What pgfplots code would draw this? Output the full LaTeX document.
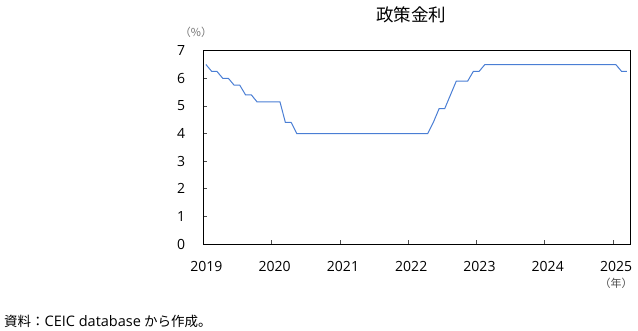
\documentclass[border=0pt]{standalone}
\usepackage{fontspec}
\setmainfont{Noto Sans CJK JP}
\newfontfamily\latin{Open Sans}
\usepackage{pgfplots}
\pgfplotsset{compat=1.18}
\usepgfplotslibrary{dateplot}
\definecolor{lineblue}{RGB}{74,126,212}
\begin{document}
\begin{tikzpicture}[x=1pt,y=1pt]
\path[use as bounding box] (0,0) rectangle (638,331);
\begin{axis}[
  at={(203.3pt,87pt)}, anchor=south west,
  scale only axis, width=426.7pt, height=193.3pt,
  date coordinates in=x,
  xmin=2019-01-01, xmax=2025-04-01,
  ymin=0, ymax=7,
  xtick={2019-01-01,2020-01-01,2021-01-01,2022-01-01,2023-01-01,2024-01-01,2025-01-01},
  xticklabel={\year},
  ytick={0,1,2,3,4,5,6,7},
  tick align=inside, xtick pos=bottom, ytick pos=left,
  major tick length=4pt,
  axis line style={black, line width=0.9pt},
  tick style={black!70, line width=0.7pt},
  /pgf/number format/assume math mode=true,
  ticklabel style={font=\latin\fontsize{14}{16}\selectfont, inner sep=0pt},
  xticklabel style={anchor=north, yshift=-17.5pt, xshift=3pt},
  yticklabel style={anchor=east, xshift=-18pt},
  clip=false,
]
\addplot[lineblue, line width=1pt] table[row sep=\\] {
date value\\
2019-01-15 6.50\\ 2019-02-15 6.25\\ 2019-03-15 6.25\\ 2019-04-15 6.00\\ 2019-05-15 6.00\\ 2019-06-15 5.75\\
2019-07-15 5.75\\ 2019-08-15 5.40\\ 2019-09-15 5.40\\ 2019-10-15 5.15\\ 2019-11-15 5.15\\ 2019-12-15 5.15\\
2020-01-15 5.15\\ 2020-02-15 5.15\\ 2020-03-15 4.40\\ 2020-04-15 4.40\\ 2020-05-15 4.00\\ 2020-06-15 4.00\\
2020-07-15 4.00\\ 2020-08-15 4.00\\ 2020-09-15 4.00\\ 2020-10-15 4.00\\ 2020-11-15 4.00\\ 2020-12-15 4.00\\
2021-01-15 4.00\\ 2021-02-15 4.00\\ 2021-03-15 4.00\\ 2021-04-15 4.00\\ 2021-05-15 4.00\\ 2021-06-15 4.00\\
2021-07-15 4.00\\ 2021-08-15 4.00\\ 2021-09-15 4.00\\ 2021-10-15 4.00\\ 2021-11-15 4.00\\ 2021-12-15 4.00\\
2022-01-15 4.00\\ 2022-02-15 4.00\\ 2022-03-15 4.00\\ 2022-04-15 4.00\\ 2022-05-15 4.40\\ 2022-06-15 4.90\\
2022-07-15 4.90\\ 2022-08-15 5.40\\ 2022-09-15 5.90\\ 2022-10-15 5.90\\ 2022-11-15 5.90\\ 2022-12-15 6.25\\
2023-01-15 6.25\\ 2023-02-15 6.50\\ 2023-03-15 6.50\\ 2023-04-15 6.50\\ 2023-05-15 6.50\\ 2023-06-15 6.50\\
2023-07-15 6.50\\ 2023-08-15 6.50\\ 2023-09-15 6.50\\ 2023-10-15 6.50\\ 2023-11-15 6.50\\ 2023-12-15 6.50\\
2024-01-15 6.50\\ 2024-02-15 6.50\\ 2024-03-15 6.50\\ 2024-04-15 6.50\\ 2024-05-15 6.50\\ 2024-06-15 6.50\\
2024-07-15 6.50\\ 2024-08-15 6.50\\ 2024-09-15 6.50\\ 2024-10-15 6.50\\ 2024-11-15 6.50\\ 2024-12-15 6.50\\
2025-01-15 6.50\\ 2025-02-15 6.25\\ 2025-03-15 6.25\\
};
\end{axis}
\node[font=\fontsize{17.5}{20}\selectfont, inner sep=0pt] at (411,316) {政策金利};
\node[font=\fontsize{11}{13}\selectfont, text=black!55, inner sep=0pt] at (196,299) {（\%）};
\node[font=\fontsize{11}{13}\selectfont, text=black!70, inner sep=0pt] at (616,48) {（年）};
\node[font=\fontsize{13.5}{16}\selectfont, anchor=west, inner sep=0pt] at (4,10) {資料：{\latin\fontsize{14.5}{16}\selectfont CEIC database} から作成。};
\end{tikzpicture}
\end{document}
